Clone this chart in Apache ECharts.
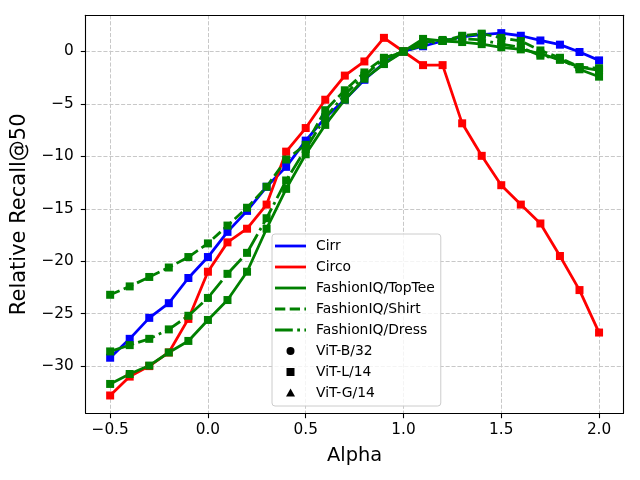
<!DOCTYPE html>
<html>
<head>
<meta charset="utf-8">
<script src="https://cdn.jsdelivr.net/npm/echarts@6/dist/echarts.min.js"></script>
<style>
  html, body { margin: 0; padding: 0; background: #fff; }
  #main { width: 640px; height: 480px; }
</style>
</head>
<body>
<div id="main"></div>
<script>
// alpha values on the x axis
const alpha = [-0.5, -0.4, -0.3, -0.2, -0.1, 0.0, 0.1, 0.2, 0.3, 0.4, 0.5, 0.6, 0.7,
  0.8, 0.9, 1.0, 1.1, 1.2, 1.3, 1.4, 1.5, 1.6, 1.7, 1.8, 1.9, 2.0];

// relative recall@50, ViT-L/14
const cirr = [-29.2, -27.4, -25.4, -24.0, -21.6, -19.6, -17.2, -15.2, -12.9, -11.0, -8.5, -6.3, -4.6,
  -2.7, -1.1, 0, 0.5, 1.0, 1.4, 1.6, 1.75, 1.5, 1.05, 0.65, -0.05, -0.85];
const circo = [-32.8, -31.0, -30.0, -28.7, -25.5, -21.0, -18.2, -16.9, -14.6, -9.55, -7.3, -4.6, -2.3,
  -0.95, 1.3, 0, -1.3, -1.3, -6.85, -9.95, -12.75, -14.6, -16.4, -19.5, -22.75, -26.8];
const topTee = [-31.7, -30.75, -29.95, -28.7, -27.6, -25.6, -23.7, -21.0, -16.9, -13.1, -9.8, -7.0, -4.6,
  -2.6, -1.2, 0, 1.2, 1.0, 0.9, 0.7, 0.4, 0.2, -0.2, -0.8, -1.5, -1.8];
const shirt = [-23.2, -22.4, -21.5, -20.6, -19.6, -18.3, -16.6, -14.9, -12.9, -10.3, -8.9, -5.6, -3.7,
  -2.0, -0.6, 0, 0.9, 1.0, 1.5, 1.7, 1.3, 1.0, 0.1, -0.6, -1.5, -1.6];
const dress = [-28.6, -28.0, -27.4, -26.5, -25.2, -23.5, -21.2, -19.2, -15.9, -12.3, -9.3, -6.3, -4.1,
  -2.3, -0.7, 0, 0.6, 1.1, 1.2, 1.1, 0.7, 0.4, -0.4, -0.7, -1.7, -2.4];

const xRange = [-0.625, 2.125];
const yRange = [-34.5, 3.45];

const FONT = 'DejaVu Sans';
const LW = 2.8;
const DASHED = [10.3, 4.4];
const DASHDOT = [17.8, 4.4, 2.8, 4.4];

// legend icons, all inside a 31x10 box (corner points keep the box size)
const BOX = 'M0,0L0,0M31,10L31,10';
const iconSolid = 'path://' + BOX + 'M0,3.6H31V6.4H0Z';
const iconDashed = 'path://' + BOX + 'M0,3.6H10.3V6.4H0Z M14.7,3.6H25V6.4H14.7Z M29.4,3.6H31V6.4H29.4Z';
const iconDashDot = 'path://' + BOX + 'M0,3.6H17.8V6.4H0Z M22.2,3.6H25V6.4H22.2Z M29.4,3.6H31V6.4H29.4Z';
const iconCircle = 'path://' + BOX + 'M11.5,5A4,4 0 1,0 19.5,5A4,4 0 1,0 11.5,5Z';
const iconSquare = 'path://' + BOX + 'M11.5,1H19.5V9H11.5Z';
const iconTriangle = 'path://' + BOX + 'M15.5,0.6L20,8.6H11Z';

function pairs(ys) {
  return alpha.map((a, i) => [a, ys[i]]);
}

function lineSeries(name, ys, color, type) {
  return {
    name: name,
    type: 'line',
    data: pairs(ys),
    xAxisIndex: 0,
    yAxisIndex: 0,
    symbol: 'rect',
    symbolSize: 8,
    color: color,
    lineStyle: { color: color, width: LW, type: type },
    itemStyle: { color: color, borderWidth: 0 },
    emphasis: { disabled: true },
    z: 2
  };
}

function markerSeries(name) {
  return { name: name, type: 'line', data: [], xAxisIndex: 0, yAxisIndex: 0, color: '#000' };
}

function frameAxis(pos) {
  const isX = pos === 'top' || pos === 'bottom';
  const r = isX ? xRange : yRange;
  return {
    type: 'value', position: pos, min: r[0], max: r[1], z: 10,
    axisLine: { show: true, onZero: false, lineStyle: { color: '#000', width: 1.1 } },
    axisTick: { show: false }, axisLabel: { show: false }, splitLine: { show: false }
  };
}

const gridLine = { show: true, lineStyle: { color: '#c8c8c8', width: 1, type: [4.1, 1.8] } };

const chart = echarts.init(document.getElementById('main'), null, { renderer: 'canvas' });
chart.setOption({
  animation: false,
  backgroundColor: '#fff',
  textStyle: { fontFamily: FONT },
  grid: { left: 85.7, right: 16.5, top: 15.3, bottom: 66.7 },
  xAxis: [
    {
      type: 'value', position: 'bottom', min: xRange[0], max: xRange[1],
      minInterval: 0.5, maxInterval: 0.5,
      name: 'Alpha', nameLocation: 'middle', nameGap: 33,
      nameTextStyle: { fontFamily: FONT, fontSize: 19.4, color: '#000' },
      axisLine: { show: false, onZero: false },
      axisTick: { show: true, length: 4.9, lineStyle: { color: '#000', width: 1.1 } },
      axisLabel: {
        margin: 9, fontFamily: FONT, fontSize: 15.3, color: '#000',
        showMinLabel: false, showMaxLabel: false,
        formatter: v => (v < 0 ? '\u2212' : '') + Math.abs(v).toFixed(1)
      },
      splitLine: gridLine
    },
    frameAxis('bottom'),
    frameAxis('top')
  ],
  yAxis: [
    {
      type: 'value', position: 'left', min: yRange[0], max: yRange[1],
      minInterval: 5, maxInterval: 5,
      name: 'Relative Recall@50', nameLocation: 'middle', nameGap: 49,
      nameTextStyle: { fontFamily: FONT, fontSize: 21, color: '#000' },
      axisLine: { show: false, onZero: false },
      axisTick: { show: true, length: 4.9, lineStyle: { color: '#000', width: 1.1 } },
      axisLabel: {
        margin: 12, fontFamily: FONT, fontSize: 15.3, color: '#000',
        showMinLabel: false, showMaxLabel: false,
        formatter: v => (v < 0 ? '\u2212' : '') + Math.abs(v)
      },
      splitLine: gridLine
    },
    frameAxis('left'),
    frameAxis('right')
  ],
  legend: {
    orient: 'vertical',
    left: 272, top: 234,
    padding: [5, 6, 6, 3],
    itemWidth: 31, itemHeight: 10, itemGap: 7,
    selectedMode: false,
    backgroundColor: 'rgba(255,255,255,0.8)',
    borderColor: '#cccccc', borderWidth: 1, borderRadius: 3,
    textStyle: { fontFamily: FONT, fontSize: 13.9, color: '#000', padding: [0, 0, 0, 5] },
    data: [
      { name: 'Cirr', icon: iconSolid, itemStyle: { color: '#0000ff', borderWidth: 0 } },
      { name: 'Circo', icon: iconSolid, itemStyle: { color: '#ff0000', borderWidth: 0 } },
      { name: 'FashionIQ/TopTee', icon: iconSolid, itemStyle: { color: '#008000', borderWidth: 0 } },
      { name: 'FashionIQ/Shirt', icon: iconDashed, itemStyle: { color: '#008000', borderWidth: 0 } },
      { name: 'FashionIQ/Dress', icon: iconDashDot, itemStyle: { color: '#008000', borderWidth: 0 } },
      { name: 'ViT-B/32', icon: iconCircle, itemStyle: { color: '#000', borderWidth: 0 } },
      { name: 'ViT-L/14', icon: iconSquare, itemStyle: { color: '#000', borderWidth: 0 } },
      { name: 'ViT-G/14', icon: iconTriangle, itemStyle: { color: '#000', borderWidth: 0 } }
    ]
  },
  series: [
    lineSeries('Cirr', cirr, '#0000ff', 'solid'),
    lineSeries('Circo', circo, '#ff0000', 'solid'),
    lineSeries('FashionIQ/TopTee', topTee, '#008000', 'solid'),
    lineSeries('FashionIQ/Shirt', shirt, '#008000', DASHED),
    lineSeries('FashionIQ/Dress', dress, '#008000', DASHDOT),
    markerSeries('ViT-B/32'),
    markerSeries('ViT-L/14'),
    markerSeries('ViT-G/14')
  ]
});
</script>
</body>
</html>
